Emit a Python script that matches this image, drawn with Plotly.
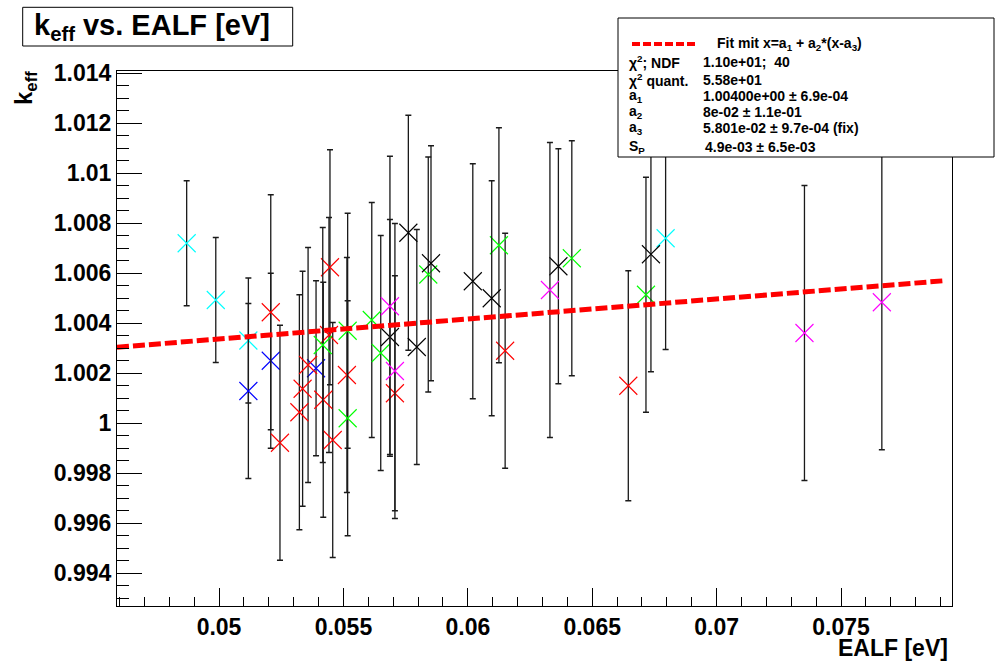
import plotly.graph_objects as go

# ---- measured points: EALF [eV], k_eff and 1-sigma uncertainty, by marker colour ----
cyan_x = [0.04870, 0.04987, 0.05118, 0.06795]
cyan_y = [1.00719, 1.00492, 1.00330, 1.00739]
cyan_err = [0.0025, 0.0025, 0.0025, 0.00445]

blue_x = [0.05118, 0.05208, 0.05390]
blue_y = [1.00128, 1.00249, 1.00219]
blue_err = [0.0035, 0.0035, 0.0035]

red_x = [0.05208, 0.05245, 0.05323, 0.05336, 0.05358, 0.05419, 0.05442,
         0.05446, 0.05457, 0.05514, 0.05707, 0.06150, 0.06645]
red_y = [1.00443, 0.99921, 1.00043, 1.00137, 1.00232, 1.00093, 1.00352,
         1.00623, 0.99932, 1.00192, 1.00119, 1.00289, 1.00149]
red_err = [0.0047, 0.0047, 0.0047, 0.0047, 0.0047, 0.0047, 0.0047,
           0.0047, 0.0047, 0.0047, 0.0047, 0.0047, 0.0046]

green_x = [0.05417, 0.05517, 0.05517, 0.05614, 0.05650, 0.05841, 0.06125, 0.06418, 0.06716]
green_y = [1.00312, 1.00369, 1.00019, 1.00412, 1.00280, 1.00594, 1.00711, 1.00659, 1.00513]
green_err = [0.0047, 0.0047, 0.0047, 0.0047, 0.0047, 0.0047, 0.0047, 0.0047, 0.0047]

black_x = [0.05687, 0.05761, 0.05795, 0.05852, 0.06020, 0.06096, 0.06364, 0.06736]
black_y = [1.00344, 1.00761, 1.00304, 1.00639, 1.00567, 1.00499, 1.00627, 1.00675]
black_err = [0.0047, 0.0047, 0.0047, 0.0047, 0.0047, 0.0047, 0.0047, 0.0047]

magenta_x = [0.05687, 0.05707, 0.06330, 0.07353, 0.07664]
magenta_y = [1.00467, 1.00208, 1.00532, 1.00360, 1.00483]
magenta_err = [0.0060, 0.0059, 0.0059, 0.0059, 0.0059]

# ---- fit parameters: k = a1 + a2*(x - a3) ----
a1 = 1.00400
a2 = 0.08
a3 = 0.05801
fit_x = [0.0459, 0.0791]

# ---- axis ticks ----
x_tick_vals = [0.05, 0.055, 0.06, 0.065, 0.07, 0.075]
x_tick_text = ["0.05", "0.055", "0.06", "0.065", "0.07", "0.075"]
y_tick_vals = [0.994, 0.996, 0.998, 1.0, 1.002, 1.004, 1.006, 1.008, 1.01, 1.012, 1.014]
y_tick_text = ["0.994", "0.996", "0.998", "1", "1.002", "1.004", "1.006",
               "1.008", "1.01", "1.012", "1.014"]

# ---- canvas geometry (pixels) ----
W, H = 995, 662
L, R, T, B = 117, 952, 71, 606
FONT = "Liberation Sans, Arial, sans-serif"


def px_x(p):
    return (p - L) / (R - L)


def px_y(p):
    return (B - p) / (B - T)


fig = go.Figure()

groups = [
    (cyan_x, cyan_y, cyan_err, "#00FFFF"),
    (blue_x, blue_y, blue_err, "#0000FF"),
    (red_x, red_y, red_err, "#FF0000"),
    (green_x, green_y, green_err, "#00FF00"),
    (black_x, black_y, black_err, "#000000"),
    (magenta_x, magenta_y, magenta_err, "#FF00FF"),
]
for gx, gy, ge, col in groups:
    fig.add_trace(go.Scatter(
        x=gx, y=gy, mode="markers",
        error_y=dict(type="data", array=ge, visible=True,
                     color="#1a1a1a", thickness=1.3, width=3),
        marker=dict(symbol="x-thin-open", size=18, color=col,
                    line=dict(color=col, width=1.1)),
        showlegend=False, hoverinfo="skip",
    ))

fit_y = [a1 + a2 * (v - a3) for v in fit_x]
fig.add_trace(go.Scatter(
    x=fit_x, y=fit_y, mode="lines",
    line=dict(color="#FF0000", width=5, dash="12px,4px"),
    showlegend=False, hoverinfo="skip",
))

axis_common = dict(
    showline=True, linecolor="black", linewidth=1, mirror=True,
    showgrid=False, zeroline=False, ticks="inside", tickcolor="black",
    tickwidth=1, tickmode="array",
    tickfont=dict(family=FONT, size=23, color="black", weight="bold"),
)

fig.update_layout(
    width=W, height=H,
    margin=dict(l=L, r=W - R, t=T, b=H - B),
    paper_bgcolor="white", plot_bgcolor="white",
    xaxis=dict(range=[0.0459, 0.07946], tickvals=x_tick_vals, ticktext=x_tick_text,
               ticklen=18,
               minor=dict(ticks="inside", ticklen=9, dtick=0.001, tick0=0.045,
                          tickcolor="black", tickwidth=1, showgrid=False),
               **axis_common),
    yaxis=dict(range=[0.99268, 1.01408], tickvals=y_tick_vals, ticktext=y_tick_text,
               ticklen=25,
               minor=dict(ticks="inside", ticklen=12, dtick=0.0005, tick0=0.99,
                          tickcolor="black", tickwidth=1, showgrid=False),
               **axis_common),
)

shapes = []
# title frame
shapes.append(dict(type="rect", xref="paper", yref="paper",
                   x0=px_x(22.7), x1=px_x(292.7), y0=px_y(46), y1=px_y(7.3),
                   line=dict(color="black", width=1), fillcolor="white", layer="above"))
# fit statistics box
shapes.append(dict(type="rect", xref="paper", yref="paper",
                   x0=px_x(618), x1=px_x(994), y0=px_y(157), y1=px_y(18),
                   line=dict(color="black", width=1), fillcolor="white", layer="above"))
# fit line sample inside the box
shapes.append(dict(type="line", xref="paper", yref="paper",
                   x0=px_x(632), x1=px_x(697), y0=px_y(44), y1=px_y(44),
                   line=dict(color="#FF0000", width=4, dash="8px,3px"), layer="above"))
fig.update_layout(shapes=shapes)

ann = []


def text(px, py, s, size, anchor="left", angle=0, bold=True):
    ann.append(dict(xref="paper", yref="paper", x=px_x(px), y=px_y(py), text=s,
                    showarrow=False, xanchor=anchor, yanchor="middle", textangle=angle,
                    font=dict(family=FONT, size=size, color="black",
                              weight="bold" if bold else "normal")))


text(32, 27, "k<sub>eff</sub> vs. EALF [eV]", 29)
text(25, 88, "k<sub>eff</sub>", 24, anchor="center", angle=-90)
text(950, 648, "EALF [eV]", 23, anchor="right")

fs = 14
text(715, 44, "Fit mit x=a<sub>1</sub> + a<sub>2</sub>*(x-a<sub>3</sub>)", fs)
rows = [
    (61.7, "χ<sup>2</sup>; NDF", "1.10e+01;  40", 701),
    (80, "χ<sup>2</sup> quant.", "5.58e+01", 701),
    (96, "a<sub>1</sub>", f"{a1:.5e} ± 6.9e-04", 701),
    (111.7, "a<sub>2</sub>", f"{a2:.0e} ± 1.1e-01", 701),
    (127.7, "a<sub>3</sub>", f"{a3:.3e} ± 9.7e-04 (fix)", 701),
    (146.5, "S<sub>P</sub>", "4.9e-03 ± 6.5e-03", 703),
]
for py, lab, val, vx in rows:
    text(627, py, lab, fs)
    text(vx, py, val, fs)

fig.update_layout(annotations=ann)

fig.write_html("out.html")
